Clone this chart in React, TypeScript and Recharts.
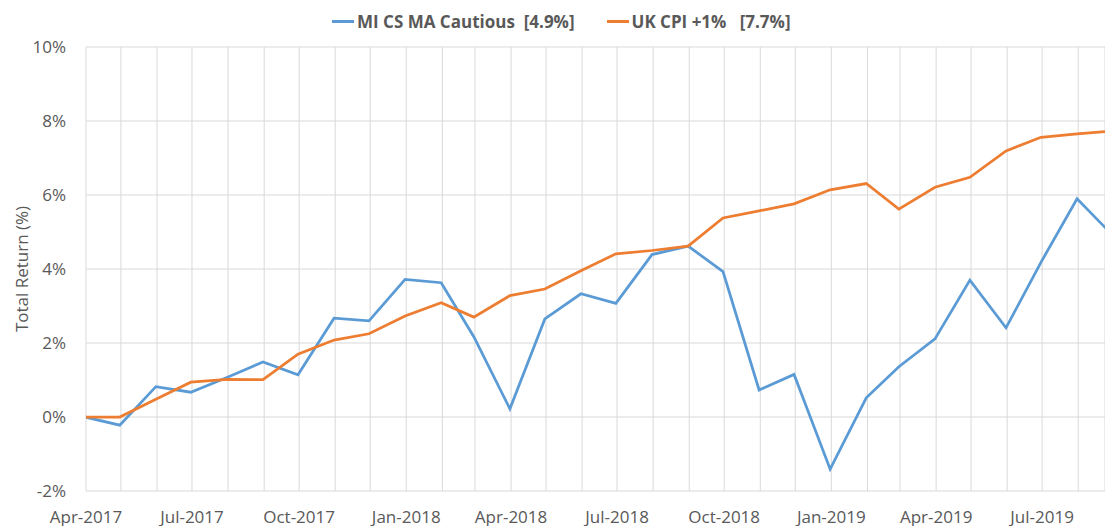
import React from 'react';
import { LineChart, Line, XAxis, YAxis, CartesianGrid, Legend } from 'recharts';

// Month-end valuation dates
const dates: string[] = [
  '2017-03-31', '2017-04-30', '2017-05-31', '2017-06-30', '2017-07-31', '2017-08-31',
  '2017-09-30', '2017-10-31', '2017-11-30', '2017-12-31',
  '2018-01-31', '2018-02-28', '2018-03-31', '2018-04-30', '2018-05-31', '2018-06-30',
  '2018-07-31', '2018-08-31', '2018-09-30', '2018-10-31', '2018-11-30', '2018-12-31',
  '2019-01-31', '2019-02-28', '2019-03-31', '2019-04-30', '2019-05-31', '2019-06-30',
  '2019-07-31', '2019-08-31',
];

const fundValues: number[] = [
  0, -0.22, 0.82, 0.67, 1.07, 1.49, 1.14, 2.67, 2.6, 3.72,
  3.63, 2.17, 0.22, 2.65, 3.33, 3.07, 4.39, 4.62, 3.93, 0.73, 1.15, -1.41,
  0.52, 1.36, 2.11, 3.7, 2.41, 4.18, 5.9, 4.9,
];

const cpiValues: number[] = [
  0, 0, 0.48, 0.94, 1.02, 1.01, 1.7, 2.08, 2.25, 2.73,
  3.09, 2.7, 3.28, 3.46, 3.95, 4.41, 4.5, 4.62, 5.38, 5.57, 5.76, 6.14,
  6.31, 5.62, 6.21, 6.48, 7.19, 7.56, 7.65, 7.73,
];

// Month-start grid ticks (Apr-2017 .. Aug-2019)
const tickMonths: string[] = [
  '2017-04-01', '2017-05-01', '2017-06-01', '2017-07-01', '2017-08-01', '2017-09-01',
  '2017-10-01', '2017-11-01', '2017-12-01', '2018-01-01', '2018-02-01', '2018-03-01',
  '2018-04-01', '2018-05-01', '2018-06-01', '2018-07-01', '2018-08-01', '2018-09-01',
  '2018-10-01', '2018-11-01', '2018-12-01', '2019-01-01', '2019-02-01', '2019-03-01',
  '2019-04-01', '2019-05-01', '2019-06-01', '2019-07-01', '2019-08-01',
];

const yTicks: number[] = [-2, 0, 2, 4, 6, 8, 10];
const domainStart = '2017-04-01';
const domainEnd = '2019-08-24';

const seriesNames = ['MI CS MA Cautious  [4.9%]', 'UK CPI +1%   [7.7%]'];
const seriesColors = ['#5B9BD5', '#ED7D31'];
const monthNames = ['Jan', 'Feb', 'Mar', 'Apr', 'May', 'Jun', 'Jul', 'Aug', 'Sep', 'Oct', 'Nov', 'Dec'];

const DAY = 86400000;
const toDay = (s: string) => {
  const [y, m, d] = s.split('-').map(Number);
  return Date.UTC(y, m - 1, d) / DAY;
};

const data = dates.map((d, i) => ({ x: toDay(d), fund: fundValues[i], cpi: cpiValues[i] }));
const ticks = tickMonths.map(toDay);

const fmtX = (v: number) => {
  const dt = new Date(v * DAY);
  const m = dt.getUTCMonth();
  if (m % 3 !== 0) return '';
  return `${monthNames[m]}-${dt.getUTCFullYear()}`;
};

const FONT = '"Open Sans", sans-serif';
const TXT = '#595959';

const LegendBox = () => (
  <div
    style={{
      position: 'absolute',
      top: 10,
      left: 332,
      display: 'flex',
      alignItems: 'center',
      height: 23,
      lineHeight: '23px',
      fontFamily: FONT,
      fontWeight: 700,
      fontSize: 17,
      color: TXT,
      whiteSpace: 'pre',
    }}
  >
    {seriesNames.map((n, i) => (
      <div key={n} style={{ display: 'flex', alignItems: 'center', marginRight: i === 0 ? 32 : 0 }}>
        <span style={{ display: 'inline-block', width: 22, height: 3, background: seriesColors[i], marginRight: 3 }} />
        <span>{n}</span>
      </div>
    ))}
  </div>
);

const YLabel = (props: any) => {
  const vb = props.viewBox || {};
  const cy = (vb.y ?? 47) + (vb.height ?? 444) / 2;
  const x = 27.5;
  return (
    <text
      x={x}
      y={cy}
      transform={`rotate(-90 ${x} ${cy})`}
      textAnchor="middle"
      fill={TXT}
      fontFamily={FONT}
      fontSize={17}
    >
      Total Return (%)
    </text>
  );
};

export default function App() {
  return (
    <div style={{ position: 'absolute', left: 0, top: 0, background: '#fff' }}>
      <LineChart width={1105} height={526} data={data} margin={{ top: 47, right: 0, bottom: 0, left: 0 }}>
        <CartesianGrid stroke="#d9d9d9" strokeWidth={1} />
        <XAxis
          type="number"
          dataKey="x"
          domain={[toDay(domainStart), toDay(domainEnd)]}
          allowDataOverflow
          ticks={ticks}
          interval={0}
          tickFormatter={fmtX}
          tickLine={false}
          axisLine={false}
          tickSize={0}
          tickMargin={20}
          height={35}
          tick={{ fill: TXT, fontFamily: FONT, fontSize: 17 }}
        />
        <YAxis
          type="number"
          domain={[-2, 10]}
          ticks={yTicks}
          interval={0}
          tickFormatter={(v: number) => `${v}%`}
          tickLine={false}
          axisLine={false}
          tickSize={0}
          tickMargin={20}
          width={86}
          tick={{ fill: TXT, fontFamily: FONT, fontSize: 17 }}
          label={<YLabel />}
        />
        <Legend
          layout="horizontal"
          verticalAlign="middle"
          align="center"
          wrapperStyle={{ top: 0, left: 0, width: 1105, height: 40 }}
          content={() => <LegendBox />}
        />
        <Line
          type="linear"
          dataKey="fund"
          name={seriesNames[0]}
          stroke={seriesColors[0]}
          strokeWidth={2.75}
          dot={false}
          activeDot={false}
          isAnimationActive={false}
        />
        <Line
          type="linear"
          dataKey="cpi"
          name={seriesNames[1]}
          stroke={seriesColors[1]}
          strokeWidth={2.75}
          dot={false}
          activeDot={false}
          isAnimationActive={false}
        />
      </LineChart>
    </div>
  );
}
